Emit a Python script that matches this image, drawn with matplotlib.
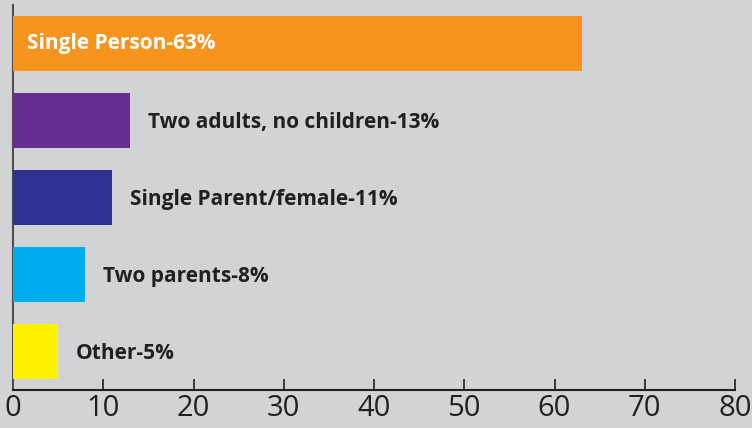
import matplotlib
matplotlib.use("Agg")
import matplotlib.pyplot as plt

categories = ['Single Person', 'Two adults, no children', 'Single Parent/female',
              'Two parents', 'Other']
values = [63, 13, 11, 8, 5]
colors = ['#f7941d', '#662d91', '#2e3192', '#00aeef', '#fff200']
BG = '#d1d3d4'
INK = '#231f20'

plt.rcParams['font.family'] = ['Open Sans', 'DejaVu Sans']
fig = plt.figure(figsize=(7.52, 4.28), dpi=100, facecolor=BG)
ax = fig.add_axes([0.0173, 0.0888, 0.9601, 0.8995], facecolor=BG)

y = list(range(len(categories)))
ax.barh(y, values, height=0.72, color=colors, zorder=3)
for yi, (cat, v) in enumerate(zip(categories, values)):
    lab = f'{cat}-{v}%'
    if yi == 0:
        ax.text(1.5, yi, lab, ha='left', va='center', color='white',
                fontsize=15, fontweight='bold', zorder=4)
    else:
        ax.text(v + 2.0, yi + 0.03, lab, ha='left', va='center', color=INK,
                fontsize=15, fontweight='bold', zorder=4)

ax.set_xlim(0, 80)
ax.set_ylim(4.5, -0.5)
ax.set_xticks(range(0, 81, 10))
ax.set_yticks([])
ax.tick_params(axis='x', direction='in', length=8, width=1.2, color=INK,
               labelsize=21, labelcolor=INK, pad=3)
for s in ('top', 'right'):
    ax.spines[s].set_visible(False)
ax.spines['bottom'].set_color(INK)
ax.spines['bottom'].set_linewidth(1.5)
ax.spines['left'].set_color('#4d4d4f')
ax.spines['left'].set_linewidth(1.5)

fig.savefig('out.png', dpi=100, facecolor=BG)
